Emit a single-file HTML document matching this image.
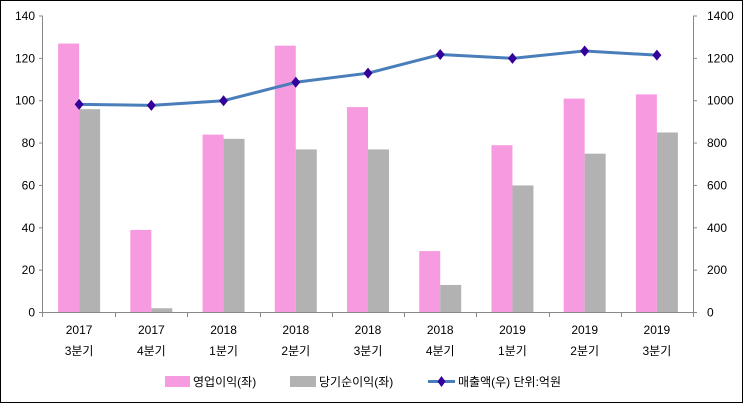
<!DOCTYPE html>
<html><head><meta charset="utf-8"><style>
html,body{margin:0;padding:0;background:#fff}
svg{display:block}
text{font-family:"Liberation Sans","Noto Sans CJK KR",sans-serif;font-size:12px;fill:#000}
</style></head><body>
<svg width="743" height="403" viewBox="0 0 743 403" xmlns="http://www.w3.org/2000/svg">
<rect x="0.5" y="0.5" width="742" height="402" fill="#fff" stroke="#000" stroke-width="1"/>
<g id="bars"></g>
<g stroke="#888" stroke-width="1" fill="none">
<line x1="42.5" y1="16" x2="42.5" y2="313"/>
<line x1="693.5" y1="16" x2="693.5" y2="313"/>
<line x1="39" y1="312.5" x2="697" y2="312.5"/>
</g>
<g id="ticks" stroke="#888" stroke-width="1"></g>
<g id="labels"></g>
<g id="line"></g>
<rect x="165" y="376" width="25" height="11" fill="#F79BE0"/>
<text x="193" y="386">영업이익(좌)</text>
<rect x="290" y="376" width="26" height="11" fill="#B2B2B2"/>
<text x="319" y="386">당기순이익(좌)</text>
<line x1="428" y1="381.5" x2="455" y2="381.5" stroke="#4A7EBB" stroke-width="3"/>
<path d="M441.5 376 L445.5 381.5 L441.5 387 L437.5 381.5Z" fill="#330099"/>
<text x="458" y="386">매출액(우)  단위:억원</text>
<script>
var ns="http://www.w3.org/2000/svg";
function el(t,a,p,txt){var e=document.createElementNS(ns,t);for(var k in a)e.setAttribute(k,a[k]);if(txt!==undefined)e.textContent=txt;document.getElementById(p).appendChild(e);return e;}
var y0=312.5,s=296.5/140;
var pink=[127,39,84,126,97,29,79,101,103],gray=[96,2,82,77,77,13,60,75,85];
var line=[983,978,1000,1087,1130,1218,1200,1235,1215];
var yrs=["2017","2017","2018","2018","2018","2018","2019","2019","2019"];
var qs=["3분기","4분기","1분기","2분기","3분기","4분기","1분기","2분기","3분기"];
var cw=(693-43)/9,pts=[];
for(var i=0;i<9;i++){var b=43+cw*i,c=b+cw/2;
el("rect",{x:c-21,y:y0-pink[i]*s,width:21,height:pink[i]*s,fill:"#F79BE0"},"bars");
el("rect",{x:c,y:y0-gray[i]*s,width:21,height:gray[i]*s,fill:"#B2B2B2"},"bars");
el("text",{x:c,y:334,"text-anchor":"middle"},"labels",yrs[i]);
el("text",{x:c,y:355,"text-anchor":"middle"},"labels",qs[i]);
pts.push([c,y0-line[i]*s/10]);
el("line",{x1:Math.round(b+cw)+.5,y1:313,x2:Math.round(b+cw)+.5,y2:317},"ticks");}
el("line",{x1:42.5,y1:313,x2:42.5,y2:317},"ticks");
for(var j=0;j<=7;j++){var y=y0-j*20*s;
el("line",{x1:39,y1:y,x2:43,y2:y},"ticks");
el("line",{x1:693,y1:y,x2:697,y2:y},"ticks");
el("text",{x:35,y:y+4,"text-anchor":"end"},"labels",String(j*20));
el("text",{x:707,y:y+4},"labels",String(j*200));}
el("polyline",{points:pts.map(function(p){return p.join(",")}).join(" "),fill:"none",stroke:"#4A7EBB","stroke-width":3,"stroke-linejoin":"round"},"line");
pts.forEach(function(p){el("path",{d:"M"+p[0]+" "+(p[1]-5.5)+" L"+(p[0]+4.5)+" "+p[1]+" L"+p[0]+" "+(p[1]+5.5)+" L"+(p[0]-4.5)+" "+p[1]+"Z",fill:"#330099"},"line");});
</script>
</svg>
</body></html>
